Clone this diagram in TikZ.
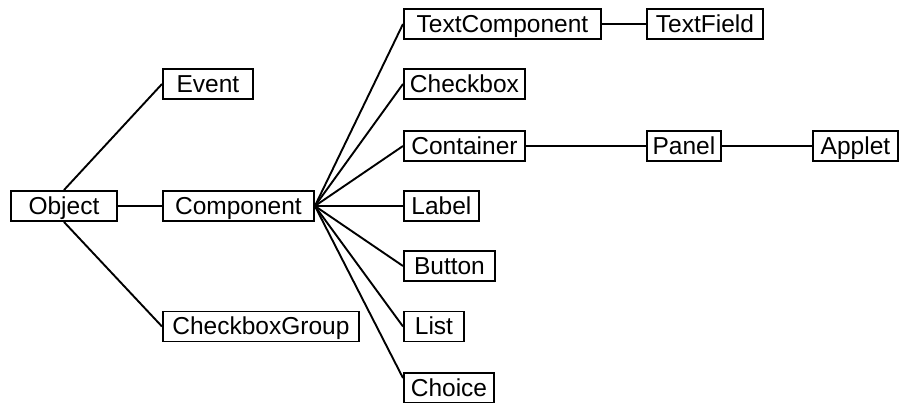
\documentclass[tikz,border=0pt]{standalone}
\usepackage{fontspec}
\setmainfont{Liberation Sans}
\usetikzlibrary{calc}

\begin{document}
\begin{tikzpicture}[
  x=1pt, y=-1pt,
  cls/.style={draw, line width=1.9pt, anchor=west, minimum height=30pt, inner sep=0pt,
              text height=18pt, text depth=2pt, font=\fontsize{24.5}{28}\selectfont},
  link/.style={line width=1.9pt}
]
  \useasboundingbox (0,0) rectangle (899,402);

  \node[cls, minimum width=106pt] (obj) at (10,206) {Object};
  \node[cls, minimum width=90pt] (event) at (162,84) {Event};
  \node[cls, minimum width=151pt] (comp) at (162,206) {Component};
  \node[cls, minimum width=196pt] (cbg) at (162,326.5) {CheckboxGroup};

  \node[cls, minimum width=197pt] (tcomp) at (403,24) {TextComponent};
  \node[cls, minimum width=121pt] (chk) at (403,84) {Checkbox};
  \node[cls, minimum width=121pt] (cont) at (403,146) {Container};
  \node[cls, minimum width=75pt] (label) at (403,206) {Label};
  \node[cls, minimum width=91pt] (button) at (403,266) {Button};
  \node[cls, minimum width=60pt] (list) at (403,326.5) {List};
  \node[cls, minimum width=90pt] (choice) at (403,388) {Choice};

  \node[cls, minimum width=116pt] (tfield) at (646,24) {TextField};
  \node[cls, minimum width=74pt] (panel) at (646,146) {Panel};
  \node[cls, minimum width=85pt] (applet) at (812,146) {Applet};

  \draw[link] (obj.north) -- (event.west);
  \draw[link] (obj.east) -- (comp.west);
  \draw[link] (obj.south) -- (cbg.west);

  \draw[link] (comp.east) -- (tcomp.west);
  \draw[link] (comp.east) -- (chk.west);
  \draw[link] (comp.east) -- (cont.west);
  \draw[link] (comp.east) -- (label.west);
  \draw[link] (comp.east) -- (button.west);
  \draw[link] (comp.east) -- (list.west);
  \draw[link] (comp.east) -- ($(choice.north west)+(0,6)$);

  \draw[link] (tcomp.east) -- (tfield.west);
  \draw[link] (cont.east) -- (panel.west);
  \draw[link] (panel.east) -- (applet.west);
\end{tikzpicture}
\end{document}
